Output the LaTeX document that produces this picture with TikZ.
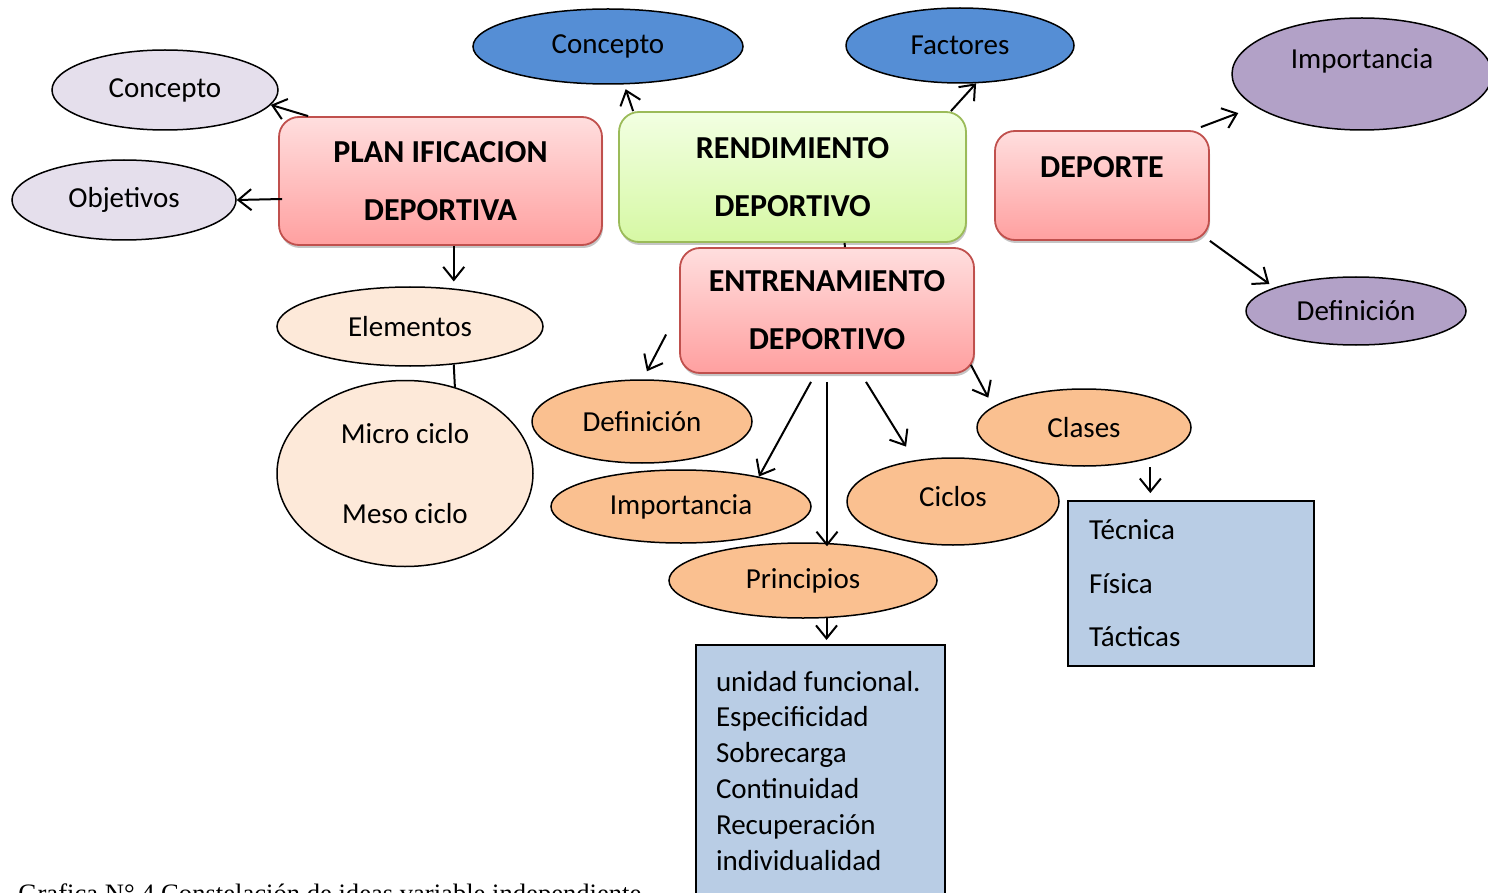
\documentclass[tikz,border=0pt]{standalone}
\usepackage{fontspec}
\setmainfont{Carlito}
\newfontfamily\capfont{Liberation Serif}
\usetikzlibrary{shapes.geometric,arrows.meta,shadows}
\definecolor{lila}{HTML}{E5DFEC}
\definecolor{azul}{HTML}{558ED5}
\definecolor{morado}{HTML}{B2A1C7}
\definecolor{crema}{HTML}{FDE9D9}
\definecolor{naranja}{HTML}{FAC090}
\definecolor{listblue}{HTML}{B9CDE5}
\definecolor{redtop}{HTML}{FFDEDE}
\definecolor{redbot}{HTML}{FFA0A0}
\definecolor{rededge}{HTML}{C0504D}
\definecolor{greentop}{HTML}{F2FFE2}
\definecolor{greenbot}{HTML}{D6F8A4}
\definecolor{greenedge}{HTML}{9BBB59}
\tikzset{
  every node/.style={font=\fontsize{14.5}{17.5}\selectfont},
  oval/.style={ellipse, draw, line width=0.75pt, inner sep=0pt},
  box/.style={draw, rounded corners=10pt, line width=0.9pt, align=center,
    drop shadow={shadow xshift=0.5pt, shadow yshift=-1.5pt, fill=black!45, opacity=0.5},
    font=\fontsize{16}{29}\selectfont\bfseries},
  redbox/.style={box, draw=rededge, top color=redtop, bottom color=redbot},
  greenbox/.style={box, draw=greenedge, top color=greentop, bottom color=greenbot},
  listbox/.style={draw, line width=0.9pt, fill=listblue, align=flush left, inner xsep=10.5pt},
  arr/.style={-{Straight Barb[length=6.5pt,width=10.5pt]}, line width=1pt},
}
\begin{document}
\begin{tikzpicture}[x=0.5pt,y=-0.5pt]
\useasboundingbox (0,0) rectangle (1488,893);
% ovals
\node[oval, fill=lila, minimum width=113pt, minimum height=40pt] (concL) at (165,90) {Concepto};
\node[oval, fill=lila, minimum width=112pt, minimum height=40pt] (obj) at (124,200) {Objetivos};
\node[oval, fill=azul, minimum width=135pt, minimum height=37.5pt] (concB) at (608,46.5) {Concepto};
\node[oval, fill=azul, minimum width=114pt, minimum height=37.5pt] (fact) at (960,45.5) {Factores};
\node[oval, fill=morado, minimum width=130pt, minimum height=56pt] (impP) at (1362,74) {};
\node (impPtxt) at (1362,61) {Importancia};
\node[oval, fill=morado, minimum width=110pt, minimum height=34pt] (defP) at (1356,311) {Definición};
\node[oval, fill=crema, minimum width=133pt, minimum height=39.5pt] (elem) at (410,326.5) {Elementos};
\node[oval, fill=crema, minimum width=128pt, minimum height=93pt, align=center,
  font=\fontsize{14.5}{40}\selectfont] (micro) at (405,473.5) {Micro ciclo\\Meso ciclo};
\node[oval, fill=naranja, minimum width=110pt, minimum height=41.5pt] (defO) at (642,421.5) {Definición};
\node[oval, fill=naranja, minimum width=130pt, minimum height=36.5pt] (impO) at (681,506.5) {Importancia};
\node[oval, fill=naranja, minimum width=106pt, minimum height=43.5pt] (cic) at (953,501.5) {};
\node (cictxt) at (953,497) {Ciclos};
\node[oval, fill=naranja, minimum width=107pt, minimum height=38.5pt] (clas) at (1084,427.5) {Clases};
\node[oval, fill=naranja, minimum width=134pt, minimum height=37.5pt] (prin) at (803,580.5) {Principios};
% boxes
\node[redbox, minimum width=161.5pt, minimum height=64pt] (plan) at (440.5,181) {PLAN IFICACION\\DEPORTIVA};
\node[greenbox, minimum width=173.5pt, minimum height=65pt] (rend) at (792.5,177) {RENDIMIENTO\\DEPORTIVO};
\node[redbox, minimum width=107pt, minimum height=54.5pt] (dep) at (1102,185.5) {};
\node[font=\fontsize{16}{29}\selectfont\bfseries] (deptxt) at (1102,167) {DEPORTE};
\node[redbox, minimum width=147pt, minimum height=62.5pt] (ent) at (827,310.5) {ENTRENAMIENTO\\DEPORTIVO};
\node[listbox, text width=102pt, minimum height=82.5pt, font=\fontsize{14.5}{26.75}\selectfont]
  (tec) at (1191,583.5) {Técnica\\Física\\Tácticas};
\node[listbox, anchor=north, text width=104.5pt, inner xsep=10pt, inner ysep=13pt, text depth=130pt,
  font=\fontsize{14.5}{17.9}\selectfont] (pbox) at (820.5,644)
  {unidad funcional.\\Especificidad\\Sobrecarga\\Continuidad\\Recuperación\\individualidad};
\node[anchor=base west, inner sep=0pt, font=\capfont\fontsize{13.3}{15}\selectfont] (cap) at (18,902)
  {Grafica N° 4 Constelación de ideas variable independiente};
% connectors
\draw[arr] ([xshift=15pt]plan.north west) -- (concL.-8);
\draw[arr] ([xshift=2pt,yshift=-9pt]plan.west) -- (obj.east);
\draw[arr, shorten >=3.5pt] (plan.south -| elem.41) -- (elem.41);
\draw[line width=1pt] (elem.-41) -- (micro.60);
\draw[arr, shorten >=2.5pt] ([xshift=7.5pt]rend.north west) -- (concB.-67);
\draw[arr] ([xshift=-8pt]rend.north east) -- (fact.-67);
\draw[line width=1pt] ([xshift=26pt]rend.south) -- ([xshift=9pt]ent.north);
\draw[arr, shorten >=9pt] ([xshift=-4.5pt,yshift=1.5pt]dep.north east) -- (impP.197);
\draw[arr, shorten >=3pt] (dep.south east) -- (defP.164);
\draw[arr, shorten >=4.5pt] ([xshift=-6.5pt,yshift=-12pt]ent.west) -- (defO.89);
\draw[arr] ([xshift=-8pt,yshift=-4pt]ent.south) -- (impO.21);
\draw[arr, shorten >=-2pt] ([yshift=-4pt]ent.south) -- (ent.south |- prin.north);
\draw[arr, shorten >=8pt] ([xshift=19.5pt,yshift=-4pt]ent.south) -- (cic.133);
\draw[arr, shorten >=5pt] ([xshift=-2pt,yshift=4.5pt]ent.south east) -- (clas.167);
\draw[arr, shorten <=4.5pt, shorten >=3.5pt] (clas.-25) -- (clas.-25 |- tec.north);
\draw[arr, shorten >=2pt] (prin.-58) -- (prin.-58 |- pbox.north);
\end{tikzpicture}
\end{document}
